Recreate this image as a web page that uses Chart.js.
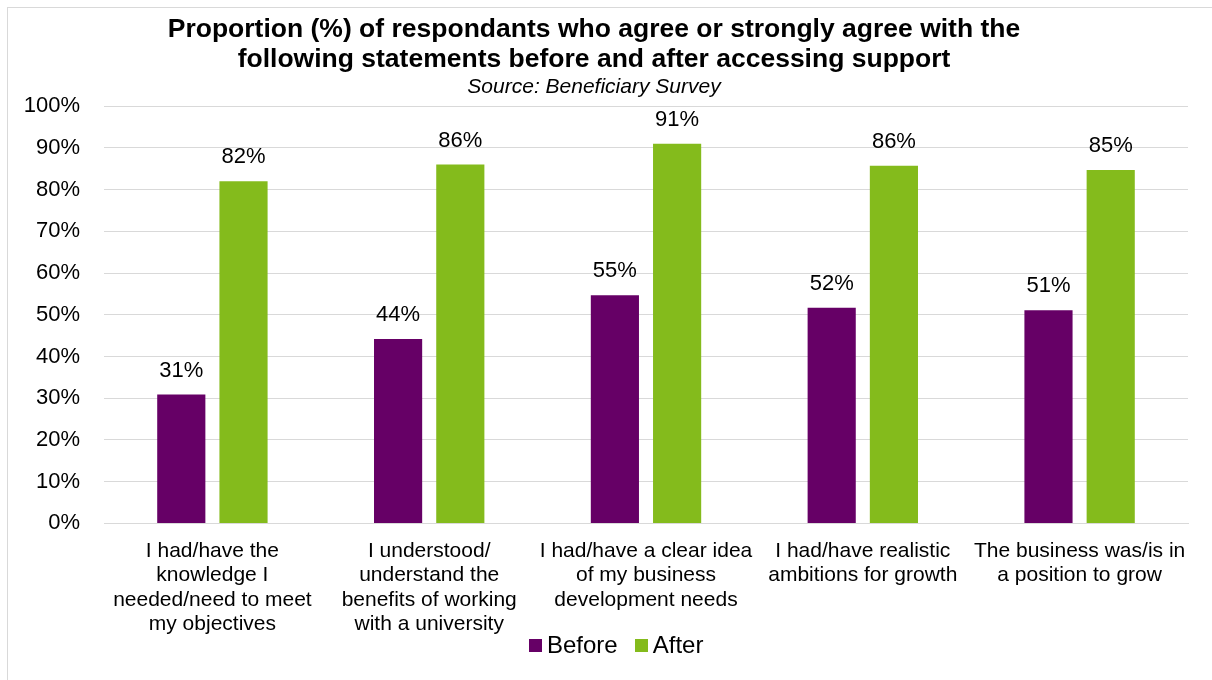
<!DOCTYPE html>
<html>
<head>
<meta charset="utf-8">
<script src="https://cdn.jsdelivr.net/npm/chart.js@4.4.1/dist/chart.umd.min.js"></script>
<style>
  html, body { margin: 0; padding: 0; background: #fff; overflow: hidden; }
  #wrap { position: relative; width: 1212px; height: 680px; }
  #frame { position: absolute; left: 7px; top: 7px; width: 1215px; height: 690px; border: 1px solid #d9d9d9; box-sizing: border-box; pointer-events: none; }
  canvas { position: absolute; left: 0; top: 0; }
  #legend { position: absolute; left: 529px; top: 631px; height: 28px; display: flex; align-items: center;
            font-family: 'Liberation Sans', Arial, sans-serif; font-size: 24px; color: #000; white-space: nowrap; }
  #legend .item { display: flex; align-items: center; margin-right: 17px; }
  #legend .box { width: 13px; height: 13px; margin-right: 5px; }
</style>
</head>
<body>
<div id="wrap">
  <canvas id="c" width="1212" height="680"></canvas>
  <div id="legend"></div>
  <div id="frame"></div>
</div>
<script>
const categories = [
  ["I had/have the", "knowledge I", "needed/need to meet", "my objectives"],
  ["I understood/", "understand the", "benefits of working", "with a university"],
  ["I had/have a clear idea", "of my business", "development needs"],
  ["I had/have realistic", "ambitions for growth"],
  ["The business was/is in", "a position to grow"]
];
const seriesNames = ['Before', 'After'];
const seriesColors = ['#660066', '#84bb1c'];
const beforeValues = [30.9, 44.2, 54.7, 51.7, 51.1];
const afterValues = [82.0, 86.0, 91.0, 85.7, 84.7];
const yTicks = [0, 10, 20, 30, 40, 50, 60, 70, 80, 90, 100];

const FONT = "'Liberation Sans', Arial, sans-serif";

const dataLabels = {
  id: 'dataLabels',
  afterDatasetsDraw(chart) {
    const ctx = chart.ctx;
    ctx.save();
    ctx.font = '22px ' + FONT;
    ctx.fillStyle = '#000';
    ctx.textAlign = 'center';
    ctx.textBaseline = 'middle';
    chart.data.datasets.forEach((ds, i) => {
      const meta = chart.getDatasetMeta(i);
      meta.data.forEach((bar, j) => {
        ctx.fillText(Math.round(ds.data[j]) + '%', bar.x, bar.y - 24);
      });
    });
    ctx.restore();
  }
};

const chart = new Chart(document.getElementById('c'), {
  type: 'bar',
  data: {
    labels: categories,
    datasets: [
      { label: seriesNames[0], data: beforeValues, backgroundColor: seriesColors[0], categoryPercentage: 0.574, barPercentage: 0.774 },
      { label: seriesNames[1], data: afterValues, backgroundColor: seriesColors[1], categoryPercentage: 0.574, barPercentage: 0.774 }
    ]
  },
  options: {
    responsive: false,
    animation: false,
    layout: { padding: { left: 0, right: 24, top: 0, bottom: 28 } },
    plugins: {
      title: {
        display: true,
        text: ['Proportion (%) of respondants who agree or strongly agree with the', 'following statements before and after accessing support'],
        color: '#000',
        font: { family: FONT, size: 26.5, weight: 'bold', lineHeight: 1.132 },
        padding: { top: 15, bottom: 0 }
      },
      subtitle: {
        display: true,
        text: 'Source: Beneficiary Survey',
        color: '#000',
        font: { family: FONT, size: 21, style: 'italic', lineHeight: 1.2 },
        padding: { top: 0, bottom: 6 }
      },
      legend: { display: false },
      tooltip: { enabled: false }
    },
    scales: {
      x: {
        grid: { display: false, drawTicks: false },
        border: { display: true, color: '#d9d9d9', width: 1 },
        ticks: {
          color: '#000',
          font: { family: FONT, size: 21, lineHeight: 1.15 },
          padding: 16,
          maxRotation: 0,
          autoSkip: false
        }
      },
      y: {
        min: 0,
        max: 100,
        afterBuildTicks(scale) { scale.ticks = yTicks.map(v => ({ value: v })); },
        afterFit(scale) { scale.width = 104; },
        grid: { color: '#d9d9d9', lineWidth: 1, drawTicks: false },
        border: { display: false },
        ticks: {
          color: '#000',
          font: { family: FONT, size: 22 },
          padding: 24,
          callback: v => v + '%'
        }
      }
    }
  },
  plugins: [dataLabels]
});

const legendEl = document.getElementById('legend');
chart.data.datasets.forEach(ds => {
  const item = document.createElement('div');
  item.className = 'item';
  const box = document.createElement('span');
  box.className = 'box';
  box.style.background = ds.backgroundColor;
  const txt = document.createElement('span');
  txt.textContent = ds.label;
  item.appendChild(box);
  item.appendChild(txt);
  legendEl.appendChild(item);
});
</script>
</body>
</html>
